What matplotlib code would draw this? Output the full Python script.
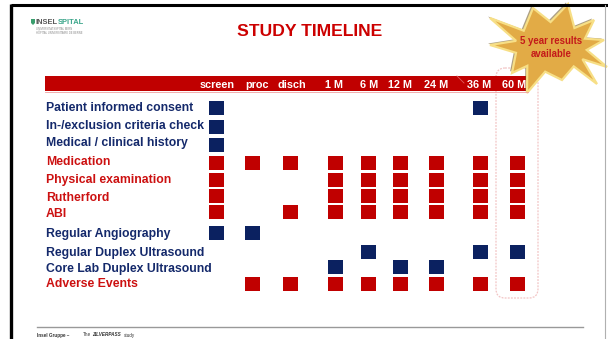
import numpy as np
import matplotlib.pyplot as plt
from matplotlib.patches import Polygon, Rectangle, FancyBboxPatch

plt.rcParams['font.family'] = ['Liberation Sans', 'DejaVu Sans']

NAVY = '#0b2160'
RED = '#c00000'

timepoints = ['screen', 'proc', 'disch', '1 M', '6 M', '12 M', '24 M', '36 M', '60 M']

activities = [
    'Patient informed consent',
    'In-/exclusion criteria check',
    'Medical / clinical history',
    'Medication',
    'Physical examination',
    'Rutherford',
    'ABI',
    'Regular Angiography',
    'Regular Duplex Ultrasound',
    'Core Lab Duplex Ultrasound',
    'Adverse Events',
]

activity_group = ['navy', 'navy', 'navy', 'red', 'red', 'red', 'red',
                  'navy', 'navy', 'navy', 'red']

follow_up = ['1 M', '6 M', '12 M', '24 M', '36 M', '60 M']
schedule = [
    ['screen', '36 M'],
    ['screen'],
    ['screen'],
    ['screen', 'proc', 'disch'] + follow_up,
    ['screen'] + follow_up,
    ['screen'] + follow_up,
    ['screen', 'disch'] + follow_up,
    ['screen', 'proc'],
    ['6 M', '36 M', '60 M'],
    ['1 M', '12 M', '24 M'],
    ['proc', 'disch'] + follow_up,
]

# slide layout in pixels
col_x = [216, 252, 290, 335, 368, 400, 436, 480, 517]
head_x = [217, 257, 292, 334, 369, 400, 436, 479, 514]
row_y = [108, 127, 145, 163, 180, 196, 212, 233, 252, 267, 284]
label_y = [108, 126, 143, 162, 180, 198, 214, 234, 253, 269, 284]

W, H = 608, 339
fig = plt.figure(figsize=(W / 100, H / 100), dpi=100)
ax = fig.add_axes([0, 0, 1, 1])
ax.set_xlim(0, W)
ax.set_ylim(H, 0)
ax.axis('off')

# slide frame
ax.plot([11, W], [5, 5], color='black', lw=2.2, solid_capstyle='butt')
ax.plot([11, 11], [4, H], color='black', lw=2.4, solid_capstyle='butt')
ax.plot([605, 605], [5, H], color='#b0b0b0', lw=0.8)

# logo
ax.add_patch(Polygon([(31, 19), (35, 19), (35, 23), (33, 25), (31, 23)],
                     closed=True, color='#3a9e6e', lw=0))
ax.text(36, 22.5, 'INSEL', fontsize=5.4, fontweight='bold', color='#5a5a5a',
        va='center', ha='left')
ax.text(57.5, 22.5, 'SPITAL', fontsize=5.4, fontweight='bold', color='#3aa58a',
        va='center', ha='left')
ax.text(36, 29, 'UNIVERSITÄTSSPITAL BERN', fontsize=1.9, color='#888888', va='center')
ax.text(36, 32.5, 'HÔPITAL UNIVERSITAIRE DE BERNE', fontsize=1.9, color='#888888', va='center')

# title
ax.text(310, 32, 'STUDY TIMELINE', fontsize=12.6, fontweight='bold', color='#cc0000',
        ha='center', va='center')

# dotted outline around the 60 M column
ax.add_patch(FancyBboxPatch((496, 68), 42, 230, boxstyle='round,pad=0,rounding_size=9',
                            fill=False, ec='#f2c4c4', lw=0.9, ls=(0, (1.5, 1))))

# header bar
bar = [(45, 76), (457, 76), (528, 76), (532, 83.5), (528, 91), (45, 91)]
ax.add_patch(Polygon(bar, closed=True, color=RED, lw=0))
ax.plot([45, 528], [91.8, 91.8], color='#f0a0a0', lw=0.6)
ax.plot([457, 464], [76, 83], color='#e06060', lw=0.6)
for x, name in zip(head_x, timepoints):
    ax.text(x, 85, name, fontsize=7.8, fontweight='bold', color='white',
            ha='center', va='center')

# activity labels and visits
colors = {'navy': NAVY, 'red': RED}
text_colors = {'navy': '#14296b', 'red': '#cc1010'}
for i, (act, grp) in enumerate(zip(activities, activity_group)):
    ax.text(46, label_y[i], act, fontsize=8.8, fontweight='bold',
            color=text_colors[grp], ha='left', va='center')
    for tp in schedule[i]:
        x = col_x[timepoints.index(tp)]
        ax.add_patch(Rectangle((x - 7.5, row_y[i] - 7), 15, 14,
                               color=colors[grp], lw=0))

# starburst
tips = [(490, 18), (533, 8), (568, 4), (594, 20), (604, 40), (607, 67),
        (597, 84), (562, 80), (527, 93), (512, 73), (490, 45)]
cx, cy = 551, 47
pts = []
for k, (tx, ty) in enumerate(tips):
    pts.append((tx, ty))
    nx, ny = tips[(k + 1) % len(tips)]
    a = np.arctan2((ty + ny) / 2 - cy, (tx + nx) / 2 - cx)
    pts.append((cx + 36 * np.cos(a), cy + 25 * np.sin(a)))
shadow = [(x - 2, y - 1.5) for x, y in pts]
ax.add_patch(Polygon(shadow, closed=True, color='#6b5320', lw=0, alpha=0.55))
ax.add_patch(Polygon(pts, closed=True, fc='#e2ab46', ec='#f7df86', lw=1.6))
ax.text(551, 41, '5 year results', fontsize=6.9, fontweight='bold', color='#c41a1a',
        ha='center', va='center')
ax.text(551, 54, 'available', fontsize=6.9, fontweight='bold', color='#c41a1a',
        ha='center', va='center')

# footer
ax.plot([37, 583], [327, 327], color='#999999', lw=1.0)
ax.text(37, 335, 'Insel Gruppe –', fontsize=3.3, fontweight='bold', color='#333333',
        va='center')
ax.text(83, 335, 'The', fontsize=3.3, color='#333333', va='center')
ax.text(92, 335, 'ZILVERPASS', fontsize=3.3, fontweight='bold', style='italic',
        color='#333333', va='center')
ax.text(124, 335, 'study', fontsize=3.3, color='#333333', va='center')

fig.savefig('out.png', dpi=100)
